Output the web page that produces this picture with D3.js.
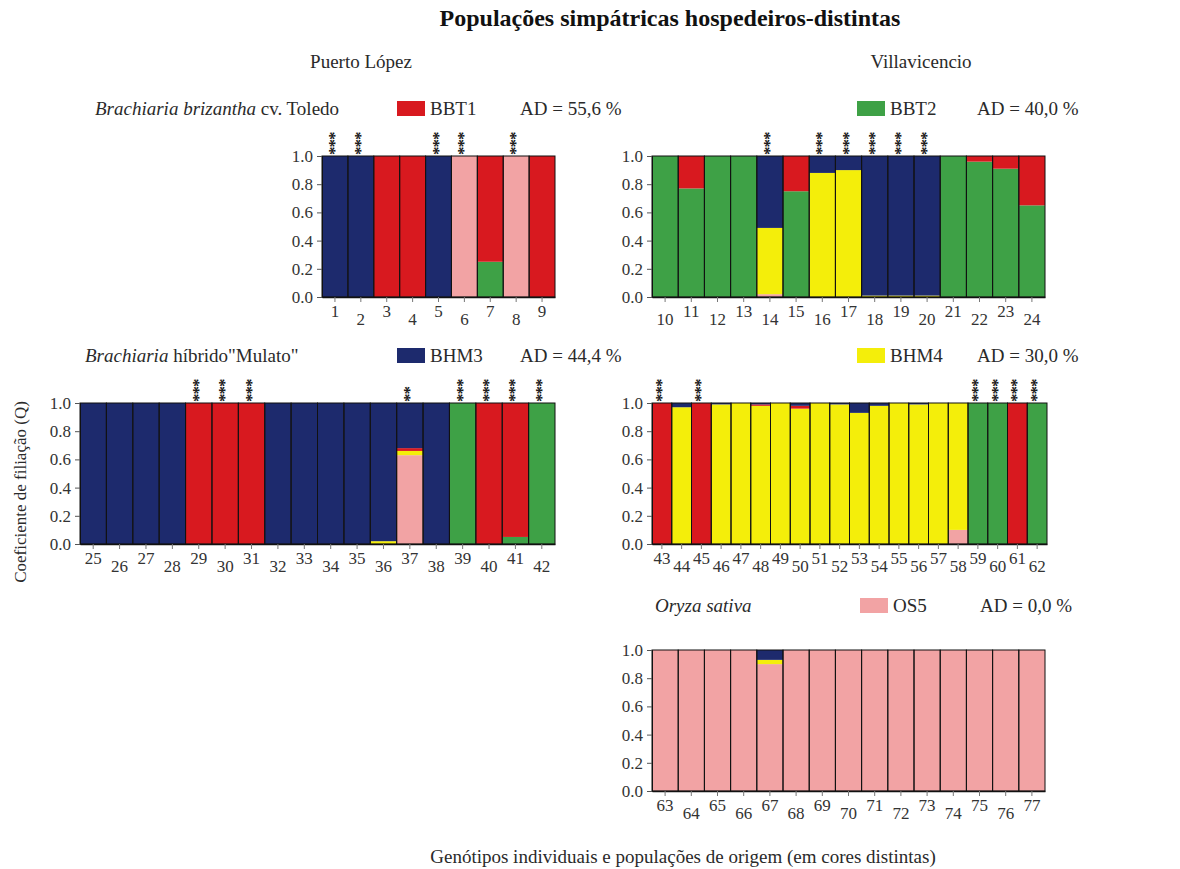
<!DOCTYPE html>
<html>
<head>
<meta charset="utf-8">
<script src="https://cdn.jsdelivr.net/npm/d3@7"></script>
<style>
  body { margin: 0; background: #fff; }
  svg { display: block; }
</style>
</head>
<body>
<div id="chart"></div>
<script>
// individuals, one per bar, grouped by panel
const idsPL1 = [1, 2, 3, 4, 5, 6, 7, 8, 9]
const idsVV2 = [10, 11, 12, 13, 14, 15, 16, 17, 18, 19, 20, 21, 22, 23, 24]
const idsPL3 = [25, 26, 27, 28, 29, 30, 31, 32, 33, 34, 35, 36, 37, 38, 39, 40, 41, 42]
const idsVV4 = [43, 44, 45, 46, 47, 48, 49, 50, 51, 52, 53, 54, 55, 56, 57, 58, 59, 60, 61, 62]
const idsOS5 = [63, 64, 65, 66, 67, 68, 69, 70, 71, 72, 73, 74, 75, 76, 77]

// cluster names, stacked bottom -> top
const clusters = ["OS5", "BBT2", "BHM4", "BBT1", "BHM3"]

// membership coefficients Q, one value per individual 1..77 (by panel)
const qOS5 = [
  0, 0, 0, 0, 0, 1, 0, 1, 0,
  0, 0, 0, 0, .02, 0, 0, 0, 0, 0, 0, 0, 0, 0, 0,
  0, 0, 0, 0, 0, 0, 0, 0, 0, 0, 0, 0, .63, 0, 0, 0, 0, 0,
  0, 0, 0, 0, 0, 0, 0, 0, 0, 0, 0, 0, 0, 0, 0, .10, 0, 0, 0, 0,
  1, 1, 1, 1, .90, 1, 1, 1, 1, 1, 1, 1, 1, 1, 1
]
const qBBT2 = [
  0, 0, 0, 0, 0, 0, .25, 0, 0,
  1, .77, 1, 1, 0, .75, 0, 0, 0, 0, 0, 1, .96, .91, .65,
  0, 0, 0, 0, 0, 0, 0, 0, 0, 0, 0, 0, 0, 0, 1, 0, .05, 1,
  0, 0, 0, 0, 0, 0, 0, 0, 0, 0, 0, 0, 0, 0, 0, 0, 1, 1, 0, 1,
  0, 0, 0, 0, 0, 0, 0, 0, 0, 0, 0, 0, 0, 0, 0
]
const qBHM4 = [
  0, 0, 0, 0, 0, 0, 0, 0, 0,
  0, 0, 0, 0, .47, 0, .88, .90, .01, .01, .01, 0, 0, 0, 0,
  0, 0, 0, 0, 0, 0, 0, 0, 0, 0, 0, .02, .03, 0, 0, 0, 0, 0,
  0, .97, 0, .99, 1, .98, 1, .96, 1, .99, .93, .98, 1, .99, 1, .90, 0, 0, 0, 0,
  0, 0, 0, 0, .03, 0, 0, 0, 0, 0, 0, 0, 0, 0, 0
]
const qBBT1 = [
  0, 0, 1, 1, 0, 0, .75, 0, 1,
  0, .23, 0, 0, 0, .25, 0, 0, 0, 0, 0, 0, .04, .09, .35,
  0, 0, 0, 0, 1, 1, 1, 0, 0, 0, 0, 0, .02, 0, 0, 1, .95, 0,
  1, 0, 1, 0, 0, .01, 0, .02, 0, 0, 0, 0, 0, 0, 0, 0, 0, 0, 1, 0,
  0, 0, 0, 0, 0, 0, 0, 0, 0, 0, 0, 0, 0, 0, 0
]
const qBHM3 = [
  1, 1, 0, 0, 1, 0, 0, 0, 0,
  0, 0, 0, 0, .51, 0, .12, .10, .99, .99, .99, 0, 0, 0, 0,
  1, 1, 1, 1, 0, 0, 0, 1, 1, 1, 1, .98, .32, 1, 0, 0, 0, 0,
  0, .03, 0, .01, 0, .01, 0, .02, 0, .01, .07, .02, 0, .01, 0, 0, 0, 0, 0, 0,
  0, 0, 0, 0, .07, 0, 0, 0, 0, 0, 0, 0, 0, 0, 0
]

// significance marks drawn above some bars
const sigIds = [1, 2, 5, 6, 8, 14, 16, 17, 18, 19, 20, 29, 30, 31, 37, 39, 40, 41, 42, 43, 45, 59, 60, 61, 62]
const sigMarks = ["***", "***", "***", "***", "***", "***", "***", "***", "***", "***", "***",
                  "***", "***", "***", "**", "***", "***", "***", "***", "***", "***", "***", "***", "***", "***"]

const yTicks = [0, 0.2, 0.4, 0.6, 0.8, 1.0]

const colors = {
  OS5: "#f2a3a4",
  BBT2: "#3ea146",
  BHM4: "#f4ee0a",
  BBT1: "#d8191f",
  BHM3: "#1d2a6d"
}

const qByCluster = { OS5: qOS5, BBT2: qBBT2, BHM4: qBHM4, BBT1: qBBT1, BHM3: qBHM3 }

const rows = d3.range(qOS5.length).map(i => {
  const r = { id: i + 1 }
  clusters.forEach(c => { r[c] = qByCluster[c][i] })
  return r
})

const W = 1180, H = 869
const font = "'Liberation Serif', 'Times New Roman', serif"
const ink = "#2a2a2a"

const svg = d3.select("#chart").append("svg")
  .attr("width", W)
  .attr("height", H)
  .attr("font-family", font)
  .attr("fill", ink)

// titles
svg.append("text")
  .attr("x", 670).attr("y", 26)
  .attr("text-anchor", "middle")
  .attr("font-size", 24).attr("font-weight", "bold")
  .attr("fill", "#111")
  .text("Populações simpátricas hospedeiros-distintas")

svg.append("text")
  .attr("x", 361).attr("y", 68)
  .attr("text-anchor", "middle").attr("font-size", 19)
  .text("Puerto López")

svg.append("text")
  .attr("x", 921).attr("y", 68)
  .attr("text-anchor", "middle").attr("font-size", 19)
  .text("Villavicencio")

svg.append("text")
  .attr("transform", "translate(26,492) rotate(-90)")
  .attr("text-anchor", "middle").attr("font-size", 17)
  .text("Coeficiente de filiação (Q)")

svg.append("text")
  .attr("x", 683).attr("y", 863)
  .attr("text-anchor", "middle").attr("font-size", 19)
  .text("Genótipos individuais e populações de origem (em cores distintas)")

const panels = [
  { ids: idsPL1, x0: 322, x1: 555, y0: 156, y1: 297,
    italic: "Brachiaria brizantha", rest: " cv. Toledo", hx: 95, hy: 115,
    legend: "BBT1", lx: 397, ad: "AD = 55,6 %", ax: 520 },
  { ids: idsVV2, x0: 652, x1: 1045, y0: 156, y1: 297,
    italic: "", rest: "", hx: 0, hy: 115,
    legend: "BBT2", lx: 857, ad: "AD = 40,0 %", ax: 977 },
  { ids: idsPL3, x0: 80, x1: 555, y0: 403, y1: 544,
    italic: "Brachiaria", rest: " híbrido\"Mulato\"", hx: 85, hy: 362,
    legend: "BHM3", lx: 397, ad: "AD = 44,4 %", ax: 520 },
  { ids: idsVV4, x0: 652, x1: 1047, y0: 403, y1: 544,
    italic: "", rest: "", hx: 0, hy: 362,
    legend: "BHM4", lx: 857, ad: "AD = 30,0 %", ax: 977 },
  { ids: idsOS5, x0: 652, x1: 1045, y0: 650, y1: 791,
    italic: "Oryza sativa", rest: "", hx: 655, hy: 612,
    legend: "OS5", lx: 860, ad: "AD = 0,0 %", ax: 980 }
]

const stack = d3.stack().keys(clusters)

panels.forEach(p => drawPanel(p))

function drawPanel(p) {
  const data = rows.filter(r => p.ids.includes(r.id))

  const x = d3.scaleBand()
    .domain(p.ids)
    .range([p.x0, p.x1])
    .padding(0)

  const y = d3.scaleLinear()
    .domain([0, 1])
    .range([p.y1, p.y0])

  const g = svg.append("g")

  // stacked bars
  const layers = g.selectAll("g.layer")
    .data(stack(data))
    .join("g")
      .attr("class", "layer")
      .attr("fill", d => colors[d.key])

  layers.selectAll("rect")
    .data(d => d.filter(s => s[1] - s[0] > 0))
    .join("rect")
      .attr("x", d => x(d.data.id))
      .attr("y", d => y(d[1]))
      .attr("width", x.bandwidth())
      .attr("height", d => y(d[0]) - y(d[1]))

  // bar outlines
  g.append("g")
    .selectAll("rect")
    .data(data)
    .join("rect")
      .attr("x", d => x(d.id))
      .attr("y", y(1))
      .attr("width", x.bandwidth())
      .attr("height", y(0) - y(1))
      .attr("fill", "none")
      .attr("stroke", "#111")
      .attr("stroke-width", 1)

  // y axis
  const yAxis = d3.axisLeft(y)
    .tickValues(yTicks)
    .tickFormat(d3.format(".1f"))
    .tickSize(5)
    .tickPadding(4)

  g.append("g")
    .attr("transform", `translate(${p.x0},0)`)
    .call(yAxis)
    .call(a => a.select(".domain").attr("stroke", "#111"))
    .call(a => a.selectAll(".tick line").attr("stroke", "#555"))
    .call(a => a.selectAll(".tick text")
      .attr("font-family", font).attr("font-size", 17).attr("fill", "#333"))

  // x axis with staggered labels (odd ids high, even ids low)
  const xAxis = d3.axisBottom(x)
    .tickSize(5)
    .tickSizeOuter(0)

  g.append("g")
    .attr("transform", `translate(0,${p.y1})`)
    .call(xAxis)
    .call(a => a.select(".domain").attr("stroke", "#111").attr("stroke-width", 1.5))
    .call(a => a.selectAll(".tick line").attr("stroke", "#777"))
    .call(a => a.selectAll(".tick text")
      .attr("font-family", font).attr("font-size", 17).attr("fill", "#333")
      .attr("y", d => d % 2 === 1 ? 8 : 16))

  // significance marks (vertical asterisks)
  const sig = sigIds.map((id, i) => ({ id: id, mark: sigMarks[i] }))
    .filter(s => p.ids.includes(s.id))

  g.append("g")
    .selectAll("text")
    .data(sig)
    .join("text")
      .attr("transform", d => `translate(${x(d.id) + x.bandwidth() / 2 + 5},${y(1) - 1}) rotate(-90)`)
      .attr("font-size", 17)
      .attr("font-weight", "bold")
      .attr("fill", "#1a1a1a")
      .attr("letter-spacing", -1)
      .text(d => d.mark)

  // header
  if (p.italic || p.rest) {
    const t = svg.append("text")
      .attr("x", p.hx).attr("y", p.hy)
      .attr("font-size", 19)
    t.append("tspan").attr("font-style", "italic").text(p.italic)
    t.append("tspan").text(p.rest)
  }

  // legend swatch
  svg.append("rect")
    .attr("x", p.lx).attr("y", p.hy - 14)
    .attr("width", 28).attr("height", 15)
    .attr("fill", colors[p.legend])

  svg.append("text")
    .attr("x", p.lx + 33).attr("y", p.hy)
    .attr("font-size", 19)
    .text(p.legend)

  svg.append("text")
    .attr("x", p.ax).attr("y", p.hy)
    .attr("font-size", 19)
    .text(p.ad)
}
</script>
</body>
</html>
